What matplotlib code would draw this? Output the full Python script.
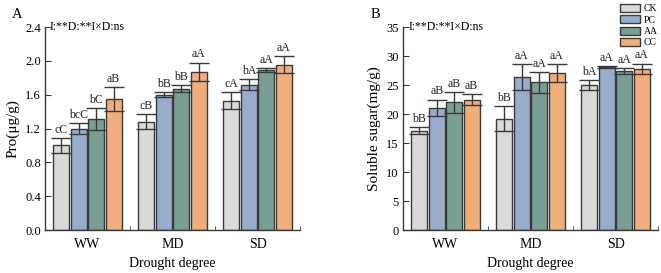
import matplotlib
matplotlib.use("Agg")
import matplotlib.pyplot as plt
import numpy as np
from matplotlib.patches import Patch

plt.rcParams['font.family'] = ['Liberation Serif', 'DejaVu Serif']

groups = ["WW", "MD", "SD"]
treatments = ["CK", "PC", "AA", "CC"]
colors = ["#d9d9d9", "#9aaccb", "#7a9e93", "#efae7c"]

pro_mean = {"CK": [1.00, 1.28, 1.53], "PC": [1.20, 1.60, 1.72],
            "AA": [1.31, 1.67, 1.89], "CC": [1.55, 1.87, 1.955]}
pro_err = {"CK": [0.09, 0.09, 0.10], "PC": [0.07, 0.03, 0.06],
           "AA": [0.13, 0.04, 0.02], "CC": [0.14, 0.11, 0.10]}
pro_lab = {"CK": ["cC", "cB", "cA"], "PC": ["bcC", "bB", "bA"],
           "AA": ["bC", "bB", "aA"], "CC": ["aB", "aA", "aA"]}

sug_mean = {"CK": [17.1, 19.2, 25.0], "PC": [21.1, 26.4, 28.1],
            "AA": [22.0, 25.5, 27.4], "CC": [22.5, 27.1, 27.8]}
sug_err = {"CK": [0.6, 2.1, 0.8], "PC": [1.4, 2.2, 0.2],
           "AA": [1.8, 1.8, 0.5], "CC": [1.0, 1.5, 0.9]}
sug_lab = {"CK": ["bB", "bB", "bA"], "PC": ["aB", "aA", "aA"],
           "AA": ["aB", "aA", "aA"], "CC": ["aB", "aA", "aA"]}

fig = plt.figure(figsize=(6.61, 2.73), dpi=100)
axA = fig.add_axes([0.068, 0.1575, 0.386, 0.7435])
axB = fig.add_axes([0.6097, 0.1575, 0.3858, 0.7435])

edge = "#3a3a3a"
width = 0.19
stride = 0.205


def draw(ax, mean, err, lab, ymax, yticks, fmt, ylabel):
    x = np.arange(len(groups))
    for i, t in enumerate(treatments):
        xs = x + (i - 1.5) * stride
        ax.bar(xs, mean[t], width=width, color=colors[i], edgecolor=edge,
               linewidth=1.0, zorder=2)
        ax.errorbar(xs, mean[t], yerr=err[t], fmt='none', ecolor=edge,
                    elinewidth=1.0, capsize=7.5, capthick=1.0, zorder=3)
        for xx, m, e, s in zip(xs, mean[t], err[t], lab[t]):
            ax.annotate(s, (xx, m + e), xytext=(0, 1.5), textcoords='offset points',
                        ha='center', va='bottom', fontsize=8.5, color='#222222')
    ax.set_xlim(-0.5, 2.5)
    ax.set_ylim(0, ymax)
    ax.set_yticks(yticks)
    ax.set_yticklabels([fmt.format(v) for v in yticks])
    ax.set_xticks(x)
    ax.set_xticklabels(groups)
    ax.set_xticks([0.5, 1.5, 2.5], minor=True)
    ax.tick_params(axis='x', which='major', length=0, labelsize=10, pad=6)
    ax.tick_params(axis='x', which='minor', direction='in', length=3, color=edge)
    ax.tick_params(axis='y', direction='in', length=4, labelsize=9, color=edge, pad=3)
    for s in ['top', 'right']:
        ax.spines[s].set_visible(False)
    for s in ['left', 'bottom']:
        ax.spines[s].set_color(edge)
        ax.spines[s].set_linewidth(1.0)
    ax.set_xlabel("Drought degree", fontsize=10, labelpad=4)
    ax.set_ylabel(ylabel, fontsize=11, labelpad=4)
    ax.text(0.02, 1.0, "I:**D:**I\u00d7D:ns", transform=ax.transAxes,
            fontsize=8.5, ha='left', va='center')


draw(axA, pro_mean, pro_err, pro_lab, 2.4, [0.0, 0.4, 0.8, 1.2, 1.6, 2.0, 2.4],
     "{:.1f}", "Pro(\u03bcg/g)")
draw(axB, sug_mean, sug_err, sug_lab, 35, [0, 5, 10, 15, 20, 25, 30, 35],
     "{:d}", "Soluble sugar(mg/g)")

fig.text(12 / 661, 1 - 15 / 273, "A", fontsize=10.5, ha='left', va='center')
fig.text(371 / 661, 1 - 15 / 273, "B", fontsize=10.5, ha='left', va='center')

handles = [Patch(facecolor=c, edgecolor=edge, linewidth=1.0) for c in colors]
fig.legend(handles, treatments, loc='upper right', bbox_to_anchor=(1.005, 1.01),
           frameon=False, fontsize=7, handlelength=2.0, handleheight=0.9,
           labelspacing=0.2, handletextpad=0.4, borderpad=0.2)

fig.savefig("out.png", dpi=100)
